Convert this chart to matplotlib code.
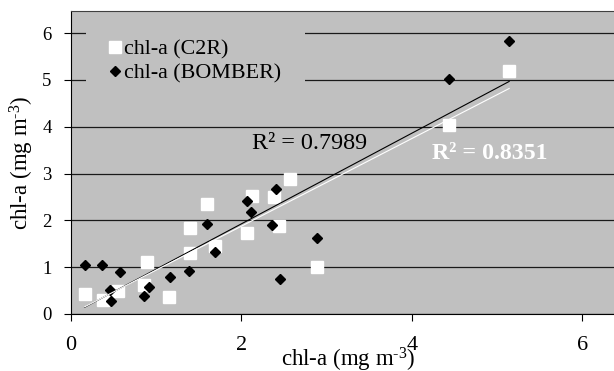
import numpy as np
import matplotlib
matplotlib.use("Agg")
import matplotlib.pyplot as plt
from matplotlib.patches import Rectangle

plt.rcParams['font.family'] = ['Liberation Serif', 'DejaVu Serif']
plt.rcParams['mathtext.fontset'] = 'custom'
plt.rcParams['mathtext.rm'] = 'Liberation Serif'
plt.rcParams['mathtext.it'] = 'Liberation Serif:italic'

# chl-a (C2R) vs chl-a reference
c2r_x = [0.16, 0.37, 0.55, 0.89, 0.86, 1.15, 1.40, 1.40, 1.60, 1.69,
         2.06, 2.12, 2.38, 2.44, 2.57, 2.89, 4.43, 5.14]
c2r_y = [0.42, 0.30, 0.50, 1.10, 0.62, 0.37, 1.30, 1.84, 2.35, 1.46,
         1.72, 2.53, 2.49, 1.87, 2.88, 1.00, 4.03, 5.18]

# chl-a (BOMBER)
bomber_x = [0.16, 0.36, 0.57, 0.46, 0.47, 0.91, 0.86, 1.16, 1.39, 1.59,
            1.69, 2.06, 2.11, 2.36, 2.40, 2.45, 2.89, 4.43, 5.14]
bomber_y = [1.05, 1.05, 0.90, 0.51, 0.28, 0.58, 0.38, 0.78, 0.92, 1.92,
            1.33, 2.42, 2.17, 1.90, 2.67, 0.74, 1.62, 5.02, 5.83]

# linear trend lines (slope, intercept)
trend_bomber = [0.968, -0.01]
trend_c2r = [0.936, 0.004]

r2_bomber = "R² = 0.7989"
r2_c2r = "R² = 0.8351"
axis_label = r'chl-a (mg m$^{\text{-3}}$)'

fig = plt.figure(figsize=(6.14, 3.71), dpi=100)
ax = fig.add_axes([71 / 614, 57 / 371, 543 / 614, 303 / 371])
ax.set_facecolor('#c0c0c0')

ax.set_xlim(0, 6.37)
ax.set_ylim(0, 6.47)
ax.set_xticks([0, 2, 4, 6])
ax.set_yticks([0, 1, 2, 3, 4, 5, 6])
ax.set_axisbelow(True)
ax.yaxis.grid(True, color='#1a1a1a', linewidth=0.9)
ax.tick_params(axis='x', length=5, width=0.8, pad=11, labelsize=16)
ax.tick_params(axis='y', length=5, width=0.8, pad=9, labelsize=13.5)
ax.spines['right'].set_visible(False)
ax.spines['top'].set_color('#404040')

# the legend area hides the gridlines behind it
ax.add_patch(Rectangle((15 / 543, 0.72), 219 / 543, 0.26, transform=ax.transAxes,
                       facecolor='#c0c0c0', edgecolor='none', zorder=1))

ax.plot(c2r_x, c2r_y, 's', color='white', markersize=9, label='chl-a (C2R)', zorder=3)
ax.plot(bomber_x, bomber_y, 'D', color='black', markersize=5.5, label='chl-a (BOMBER)', zorder=4)

xs = np.array([min(bomber_x), max(bomber_x)])
ax.plot(xs, np.polyval(trend_bomber, xs), color='black', linewidth=0.8, zorder=5)
xs = np.array([min(c2r_x), max(c2r_x)])
ax.plot(xs, np.polyval(trend_c2r, xs), color='white', linewidth=0.8, zorder=5)

ax.text(2.12, 3.65, r2_bomber, fontsize=17.4, color='black', ha='left', va='center')
ax.text(4.23, 3.43, r2_c2r, fontsize=17.2, color='white', fontweight='bold',
        ha='left', va='center')

ax.legend(loc='upper left', bbox_to_anchor=(0.068, 0.907), frameon=False,
          fontsize=15.8, handlelength=0.6, handletextpad=0.15, labelspacing=0.17,
          borderpad=0, borderaxespad=0, numpoints=1)

fig.text(348 / 614, 5 / 371, axis_label, fontsize=16.5, ha='center', va='baseline')
fig.text(22 / 614, 1 - 163 / 371, axis_label, fontsize=16.5, rotation=90,
         ha='center', va='center')

fig.savefig('out.png', dpi=100)
